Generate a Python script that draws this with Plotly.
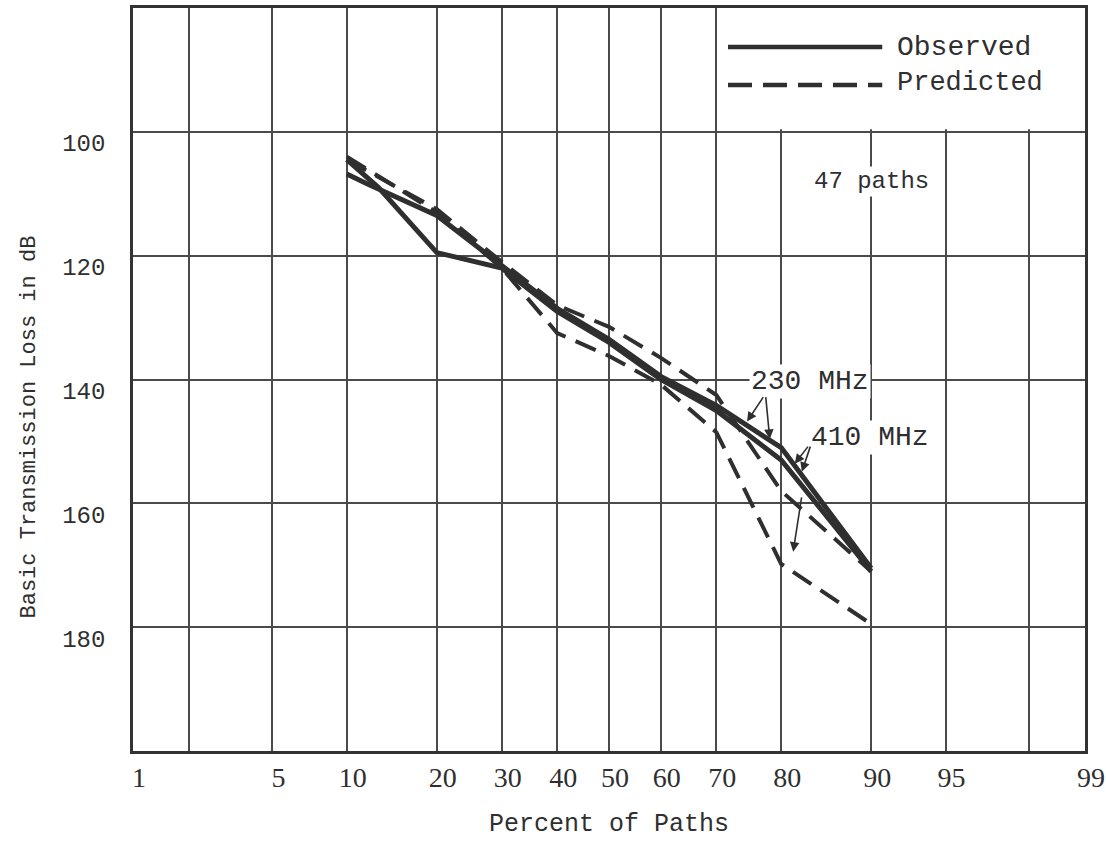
import plotly.graph_objects as go
from statistics import NormalDist

# ---------------- data ----------------
obs_a_pct = [10, 13, 20, 30, 40, 50, 60, 70, 80, 90]
obs_a_db = [104.5, 109.0, 119.5, 122.0, 129.0, 134.0, 140.0, 145.0, 153.0, 171.0]

obs_b_pct = [10, 12, 20, 30, 40, 50, 60, 70, 80, 90]
obs_b_db = [106.8, 108.5, 113.5, 121.5, 128.5, 133.5, 139.5, 144.2, 151.0, 170.5]

pred_a_pct = [10, 20, 30, 40, 50, 60, 70, 80, 90]
pred_a_db = [104.0, 113.0, 122.0, 132.5, 136.2, 140.8, 148.5, 169.8, 179.5]

pred_b_pct = [10, 20, 30, 40, 50, 60, 70, 80, 90]
pred_b_db = [104.5, 112.5, 121.0, 128.0, 131.5, 136.5, 142.5, 158.0, 171.0]

x_tick_pct = [1, 2, 5, 10, 20, 30, 40, 50, 60, 70, 80, 90, 95, 98, 99]
x_tick_text = ["1", "", "5", "10", "20", "30", "40", "50", "60", "70", "80", "90", "95", "", "99"]
y_ticks = [100, 120, 140, 160, 180]

# ---------------- helpers ----------------
nd = NormalDist()


def probit(p):
    return nd.inv_cdf(p / 100.0)


INK = "#2f2f2f"
GRID = "#4a4a4a"
TYPE = "Liberation Mono"

fig = go.Figure()

fig.add_trace(go.Scatter(x=[probit(p) for p in pred_a_pct], y=pred_a_db, mode="lines",
                         line=dict(color=INK, width=4, dash="22px,11px"), showlegend=False))
fig.add_trace(go.Scatter(x=[probit(p) for p in pred_b_pct], y=pred_b_db, mode="lines",
                         line=dict(color=INK, width=4, dash="22px,11px"), showlegend=False))
fig.add_trace(go.Scatter(x=[probit(p) for p in obs_a_pct], y=obs_a_db, mode="lines",
                         line=dict(color=INK, width=5), showlegend=False))
fig.add_trace(go.Scatter(x=[probit(p) for p in obs_b_pct], y=obs_b_db, mode="lines",
                         line=dict(color=INK, width=5), showlegend=False))

# white area behind the legend (no grid lines there)
fig.add_shape(type="rect", xref="x", yref="y", layer="between",
              x0=probit(70) + 0.02, x1=probit(99), y0=80, y1=99.6,
              fillcolor="white", line=dict(width=0))

# legend samples
fig.add_shape(type="line", xref="paper", yref="paper", x0=0.625, x1=0.787, y0=0.9475, y1=0.9475,
              line=dict(color=INK, width=4.5))
fig.add_shape(type="line", xref="paper", yref="paper", x0=0.625, x1=0.787, y0=0.8964, y1=0.8964,
              line=dict(color=INK, width=4.5, dash="24px,11px"))
fig.add_annotation(xref="paper", yref="paper", x=0.8, y=0.9475, xanchor="left", yanchor="middle",
                   text="Observed", showarrow=False, font=dict(family=TYPE, size=28, color=INK))
fig.add_annotation(xref="paper", yref="paper", x=0.8, y=0.899, xanchor="left", yanchor="middle",
                   text="Predicted", showarrow=False, font=dict(family=TYPE, size=27, color=INK))

# text labels
fig.add_annotation(x=probit(90), y=108.1, text="47 paths", showarrow=False,
                   font=dict(family=TYPE, size=24, color=INK), bgcolor="white")
fig.add_annotation(x=probit(83.7), y=140.4, text="230 MHz", showarrow=False,
                   font=dict(family=TYPE, size=28, color=INK), bgcolor="white")
fig.add_annotation(x=probit(89.9), y=149.3, text="410 MHz", showarrow=False,
                   font=dict(family=TYPE, size=28, color=INK), bgcolor="white")

# y-axis title (placed as in the reference, slightly below the plot centre)
fig.add_annotation(xref="paper", yref="paper", x=-0.124, y=0.436, textangle=-90,
                   text="Basic Transmission Loss in dB", showarrow=False,
                   font=dict(family=TYPE, size=22, color=INK))

# arrows (head at x,y ; tail at ax,ay)
arrows = [
    (75.0, 146.8, 77.6, 142.6),
    (78.4, 149.6, 77.8, 142.6),
    (81.8, 153.6, 83.6, 150.6),
    (82.7, 154.9, 83.8, 150.6),
    (81.6, 167.8, 82.7, 158.8),
]
for hx, hy, tx, ty in arrows:
    fig.add_annotation(x=probit(hx), y=hy, ax=probit(tx), ay=ty, axref="x", ayref="y",
                       xref="x", yref="y", text="", showarrow=True, arrowhead=2,
                       arrowsize=1.2, arrowwidth=1.6, arrowcolor=INK)

fig.update_xaxes(
    range=[probit(1), probit(99)],
    tickmode="array", tickvals=[probit(p) for p in x_tick_pct], ticktext=x_tick_text,
    showgrid=True, gridcolor=GRID, gridwidth=1.5,
    showline=True, mirror=True, linecolor="#333", linewidth=2.5,
    ticks="", ticklabelshift=6, ticklabelstandoff=0, automargin=False,
    tickfont=dict(family="Liberation Serif", size=28, color=INK),
    title=dict(text="Percent of Paths", font=dict(family=TYPE, size=25, color=INK), standoff=22),
    zeroline=False,
)
fig.update_yaxes(
    range=[200, 80],
    tickmode="array", tickvals=y_ticks,
    showgrid=True, gridcolor=GRID, gridwidth=2,
    showline=True, mirror=True, linecolor="#333", linewidth=2.5,
    ticks="", ticklabelstandoff=20, ticklabelshift=-11, automargin=False,
    tickfont=dict(family=TYPE, size=24, color=INK),
    zeroline=False,
)

fig.update_layout(
    width=1106, height=842,
    margin=dict(l=133, r=21, t=8, b=91),
    paper_bgcolor="white", plot_bgcolor="white",
    showlegend=False,
)

fig.write_html("out.html")
